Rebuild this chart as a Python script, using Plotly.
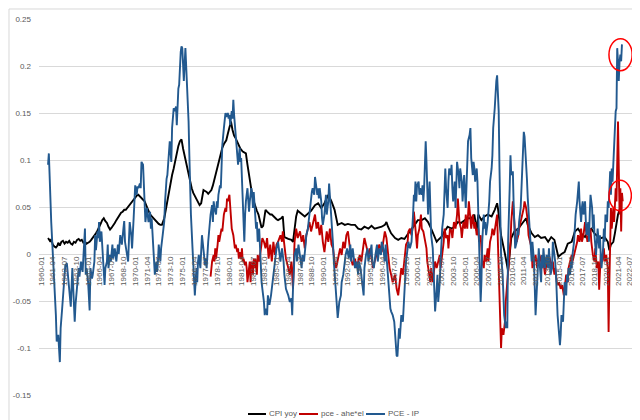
import plotly.graph_objects as go

# ---------------- data ----------------
# month index = months since 1960-01
x_tick_labels = ["1960-01", "1961-04", "1962-07", "1963-10", "1965-01", "1966-04", "1967-07",
                 "1968-10", "1970-01", "1971-04", "1972-07", "1973-10", "1975-01", "1976-04",
                 "1977-07", "1978-10", "1980-01", "1981-04", "1982-07", "1983-10", "1985-01",
                 "1986-04", "1987-07", "1988-10", "1990-01", "1991-04", "1992-07", "1993-10",
                 "1995-01", "1996-04", "1997-07", "1998-10", "2000-01", "2001-04", "2002-07",
                 "2003-10", "2005-01", "2006-04", "2007-07", "2008-10", "2010-01", "2011-04",
                 "2012-07", "2013-10", "2015-01", "2016-04", "2017-07", "2018-10", "2020-01",
                 "2021-04", "2022-07"]
y_tick_values = [-0.15, -0.1, -0.05, 0, 0.05, 0.1, 0.15, 0.2, 0.25]
y_tick_labels = ["-0.15", "-0.1", "-0.05", "0", "0.05", "0.1", "0.15", "0.2", "0.25"]

cpi_points = [
    (9, 0.017), (10, 0.015), (12, 0.013), (13, 0.016), (15, 0.010), (17, 0.008), (19, 0.007),
    (21, 0.009), (22, 0.012), (24, 0.009), (26, 0.013), (28, 0.014), (30, 0.011), (32, 0.013),
    (34, 0.012), (36, 0.014), (38, 0.011), (40, 0.010), (42, 0.013), (44, 0.012), (46, 0.015),
    (48, 0.016), (50, 0.014), (52, 0.015), (54, 0.012), (56, 0.013), (58, 0.011), (60, 0.012),
    (62, 0.013), (64, 0.015), (66, 0.017), (68, 0.019), (70, 0.022), (72, 0.025), (74, 0.028),
    (76, 0.032), (78, 0.036), (80, 0.038), (82, 0.035), (84, 0.033), (86, 0.029), (88, 0.026),
    (90, 0.028), (92, 0.030), (94, 0.033), (96, 0.036), (98, 0.039), (100, 0.042), (102, 0.044),
    (104, 0.045), (106, 0.047), (108, 0.047), (110, 0.049), (112, 0.052), (114, 0.054),
    (116, 0.056), (118, 0.058), (120, 0.060), (122, 0.062), (124, 0.063), (126, 0.061),
    (128, 0.060), (130, 0.058), (132, 0.056), (134, 0.052), (136, 0.047), (138, 0.044),
    (140, 0.041), (142, 0.039), (144, 0.037), (146, 0.035), (148, 0.033), (150, 0.032),
    (152, 0.031), (154, 0.031), (157, 0.038), (159, 0.047), (161, 0.056), (163, 0.066),
    (165, 0.077), (167, 0.084), (169, 0.091), (171, 0.100), (173, 0.109), (175, 0.115),
    (177, 0.120), (179, 0.122), (181, 0.112), (184, 0.100), (186, 0.091), (188, 0.083),
    (190, 0.075), (192, 0.070), (194, 0.065), (196, 0.062), (198, 0.059), (200, 0.056),
    (202, 0.052), (204, 0.054), (206, 0.062), (207, 0.068), (209, 0.067), (211, 0.066),
    (213, 0.064), (215, 0.066), (217, 0.068), (219, 0.073), (221, 0.080), (223, 0.088),
    (225, 0.094), (227, 0.100), (229, 0.106), (231, 0.113), (233, 0.117), (236, 0.121),
    (238, 0.128), (240, 0.136), (242, 0.141), (244, 0.132), (246, 0.126), (248, 0.123),
    (250, 0.119), (252, 0.116), (254, 0.112), (257, 0.109), (259, 0.108), (261, 0.107),
    (263, 0.095), (265, 0.084), (267, 0.072), (269, 0.063), (271, 0.056), (273, 0.050),
    (275, 0.046), (277, 0.042), (279, 0.036), (281, 0.028), (283, 0.030), (285, 0.042),
    (286, 0.047), (288, 0.045), (290, 0.043), (292, 0.042), (294, 0.042), (296, 0.040),
    (298, 0.038), (300, 0.037), (302, 0.036), (306, 0.038), (308, 0.040), (310, 0.018),
    (315, 0.016), (319, 0.015), (321, 0.013), (323, 0.027), (325, 0.040), (327, 0.046),
    (332, 0.043), (336, 0.040), (340, 0.043), (344, 0.046), (349, 0.052), (353, 0.054),
    (357, 0.049), (361, 0.054), (366, 0.063), (370, 0.056), (374, 0.047), (378, 0.031),
    (383, 0.033), (387, 0.031), (391, 0.032), (395, 0.031), (400, 0.031), (404, 0.027),
    (408, 0.026), (412, 0.029), (417, 0.027), (421, 0.030), (425, 0.027), (429, 0.028),
    (434, 0.029), (438, 0.031), (440, 0.034), (442, 0.029), (446, 0.022), (451, 0.017),
    (455, 0.015), (459, 0.017), (463, 0.016), (468, 0.022), (472, 0.026), (476, 0.031),
    (480, 0.036), (485, 0.036), (489, 0.038), (493, 0.034), (497, 0.027), (502, 0.018),
    (504, 0.013), (506, 0.015), (510, 0.018), (514, 0.024), (518, 0.029), (523, 0.027),
    (527, 0.029), (531, 0.034), (535, 0.033), (540, 0.036), (544, 0.038), (548, 0.038),
    (552, 0.042), (555, 0.025), (557, 0.042), (561, 0.036), (565, 0.040), (569, 0.042),
    (574, 0.040), (578, 0.047), (581, 0.054), (582, 0.049), (586, 0.020), (591, 0.000),
    (593, -0.010), (595, -0.018), (599, 0.017), (603, 0.024), (608, 0.027), (612, 0.031),
    (616, 0.036), (618, 0.038), (620, 0.031), (625, 0.022), (629, 0.018), (633, 0.020),
    (637, 0.017), (642, 0.018), (646, 0.013), (650, 0.018), (654, 0.015), (659, -0.003),
    (663, 0.000), (667, 0.002), (671, 0.011), (676, 0.013), (680, 0.024), (684, 0.027),
    (688, 0.022), (693, 0.018), (697, 0.024), (701, 0.027), (705, 0.022), (710, 0.018),
    (714, 0.017), (718, 0.018), (722, 0.013), (724, 0.004), (726, 0.010), (729, 0.013),
    (731, 0.022), (733, 0.034), (735, 0.042), (737, 0.047), (739, 0.052),
]

ahe_points = [
    (216, -0.024), (217, -0.015), (218, -0.008), (220, -0.001), (221, -0.008), (222, 0.006),
    (223, -0.005), (225, 0.010), (226, 0.020), (227, 0.013), (228, 0.020), (230, 0.027),
    (231, 0.024), (232, 0.031), (233, 0.042), (235, 0.049), (236, 0.045), (237, 0.059),
    (238, 0.056), (240, 0.063), (241, 0.049), (242, 0.038), (243, 0.027), (245, 0.020),
    (246, 0.013), (247, 0.006), (248, 0.010), (250, 0.002), (251, 0.006), (252, -0.005),
    (253, 0.002), (255, -0.005), (256, 0.006), (257, -0.008), (258, -0.005), (260, -0.012),
    (261, -0.008), (262, -0.015), (263, -0.030), (265, -0.015), (266, -0.008), (267, -0.030),
    (268, -0.008), (270, -0.022), (271, -0.005), (272, -0.015), (273, -0.005), (275, -0.022),
    (276, -0.001), (278, -0.008), (280, 0.006), (282, 0.017), (284, 0.013), (286, 0.006),
    (288, 0.017), (290, -0.005), (292, 0.010), (294, -0.008), (296, 0.013), (298, -0.001),
    (300, 0.010), (302, 0.013), (305, 0.020), (307, 0.013), (308, 0.024), (310, 0.006),
    (312, -0.005), (315, -0.015), (317, -0.022), (319, -0.008), (321, -0.037), (323, 0.013),
    (325, 0.027), (327, 0.017), (330, 0.024), (332, 0.013), (334, 0.020), (336, 0.006),
    (338, 0.020), (340, 0.027), (342, 0.034), (344, 0.024), (347, 0.034), (349, 0.042),
    (351, 0.027), (353, 0.034), (355, 0.020), (357, 0.031), (359, 0.013), (361, 0.002),
    (364, 0.024), (366, 0.013), (368, 0.027), (370, 0.010), (372, 0.006), (374, -0.008),
    (376, -0.015), (378, -0.008), (381, 0.006), (383, -0.001), (385, 0.013), (387, 0.006),
    (389, 0.020), (391, 0.024), (393, 0.006), (395, -0.005), (397, -0.012), (400, -0.005),
    (402, -0.015), (404, -0.008), (406, -0.001), (408, -0.008), (410, 0.006), (412, 0.017),
    (414, 0.010), (417, -0.001), (419, 0.006), (421, -0.005), (423, -0.015), (425, -0.008),
    (427, -0.001), (429, 0.006), (431, 0.010), (434, 0.002), (436, 0.013), (438, 0.024),
    (440, 0.017), (442, -0.001), (444, -0.015), (446, -0.022), (448, -0.030), (451, -0.022),
    (453, -0.037), (455, -0.044), (457, -0.030), (459, -0.015), (461, -0.022), (463, -0.008),
    (465, 0.010), (467, 0.013), (468, 0.024), (470, 0.027), (472, 0.020), (474, 0.031),
    (475, 0.045), (477, 0.027), (479, 0.006), (480, 0.020), (482, 0.027), (484, 0.042),
    (485, 0.027), (487, 0.024), (489, 0.013), (491, 0.006), (492, -0.008), (494, -0.022),
    (496, -0.030), (497, -0.015), (499, -0.030), (501, -0.015), (502, -0.008), (504, -0.015),
    (506, -0.008), (508, -0.001), (509, -0.015), (511, -0.001), (513, 0.013), (514, 0.027),
    (516, 0.017), (518, 0.020), (519, 0.006), (521, 0.027), (523, 0.024), (524, 0.017),
    (526, 0.034), (528, 0.027), (530, 0.042), (531, 0.059), (533, 0.034), (535, 0.027),
    (536, 0.017), (538, 0.034), (540, 0.027), (541, 0.042), (543, 0.027), (545, 0.056),
    (547, 0.034), (548, 0.027), (550, 0.042), (552, 0.027), (553, 0.034), (555, 0.020),
    (557, 0.027), (558, 0.013), (560, 0.020), (562, -0.008), (564, -0.015), (565, -0.001),
    (567, -0.008), (569, 0.006), (570, -0.008), (572, 0.013), (574, 0.020), (575, 0.027),
    (577, 0.020), (579, 0.034), (581, 0.042), (582, 0.013), (584, -0.044), (586, -0.100),
    (587, -0.079), (589, -0.086), (591, -0.072), (592, -0.051), (594, -0.030), (596, -0.008),
    (598, 0.013), (599, 0.034), (601, 0.056), (603, 0.034), (604, 0.020), (606, 0.013),
    (608, 0.020), (609, 0.027), (611, 0.034), (613, 0.042), (615, 0.049), (616, 0.056),
    (618, 0.049), (620, 0.035), (621, 0.020), (623, 0.013), (625, 0.006), (626, -0.015),
    (628, -0.008), (630, -0.001), (632, -0.015), (633, -0.008), (635, -0.001), (637, -0.008),
    (638, -0.015), (640, -0.008), (642, -0.022), (643, -0.015), (645, -0.008), (647, -0.001),
    (649, -0.008), (650, -0.015), (652, -0.008), (654, -0.022), (655, -0.015), (657, -0.030),
    (659, -0.033), (660, -0.030), (662, -0.037), (664, -0.033), (666, -0.044), (667, -0.037),
    (669, -0.022), (671, -0.030), (672, -0.015), (674, -0.008), (676, -0.001), (677, -0.008),
    (679, -0.001), (681, 0.006), (683, 0.013), (684, 0.020), (686, 0.013), (688, 0.027),
    (689, 0.013), (691, 0.020), (693, 0.034), (694, 0.027), (696, 0.013), (698, 0.020),
    (700, 0.027), (701, 0.013), (703, -0.001), (705, -0.008), (706, 0.006), (708, -0.015),
    (710, -0.008), (711, -0.038), (713, -0.001), (715, -0.008), (717, 0.006), (718, -0.008),
    (720, -0.001), (722, -0.015), (723, -0.083), (724, -0.030), (725, 0.027), (726, 0.049),
    (727, 0.027), (728, 0.042), (729, 0.049), (730, 0.034), (731, 0.056), (732, 0.070),
    (733, 0.056), (734, 0.098), (735, 0.141), (736, 0.091), (737, 0.042), (738, 0.070),
    (739, 0.024), (740, 0.065), (741, 0.056),
]

pce_ip_points = [
    (9, 0.095), (10, 0.107), (13, 0.034), (14, 0.020), (15, -0.005), (17, -0.030), (19, -0.065),
    (20, -0.093), (22, -0.086), (24, -0.115), (25, -0.079), (27, -0.058), (29, -0.037),
    (31, -0.012), (33, -0.010), (35, -0.030), (37, -0.044), (38, -0.056), (40, -0.015),
    (42, -0.044), (43, -0.072), (44, -0.054), (46, -0.033), (48, -0.015), (49, -0.024),
    (51, -0.008), (53, -0.019), (55, 0.010), (56, 0.027), (57, -0.022), (58, -0.015),
    (60, -0.030), (62, -0.060), (63, -0.015), (65, -0.026), (66, -0.022), (68, -0.008),
    (69, 0.020), (70, 0.004), (72, 0.024), (73, 0.017), (74, 0.034), (75, 0.013), (77, 0.024),
    (78, 0.006), (79, -0.008), (81, -0.033), (82, -0.015), (84, -0.008), (85, 0.010),
    (86, -0.015), (88, -0.001), (89, -0.008), (91, 0.010), (92, -0.005), (94, 0.006),
    (96, -0.008), (98, 0.010), (99, 0.000), (101, 0.020), (103, 0.010), (105, 0.027),
    (106, 0.035), (107, 0.013), (109, -0.001), (111, -0.008), (112, 0.013), (113, 0.034),
    (115, 0.020), (116, 0.006), (118, 0.038), (119, 0.056), (120, 0.073), (122, 0.063),
    (123, 0.072), (124, 0.070), (126, 0.075), (127, 0.070), (128, 0.098), (130, 0.095),
    (131, 0.077), (132, 0.052), (133, 0.034), (135, 0.049), (136, 0.042), (137, 0.034),
    (139, 0.045), (140, 0.027), (141, 0.038), (143, 0.010), (144, -0.008), (145, -0.022),
    (147, -0.008), (148, -0.019), (149, -0.008), (150, 0.010), (152, -0.008), (153, 0.006),
    (155, 0.020), (157, 0.035), (158, 0.055), (159, 0.070), (160, 0.080), (161, 0.084),
    (162, 0.100), (163, 0.115), (164, 0.120), (166, 0.098), (167, 0.134), (169, 0.155),
    (171, 0.152), (172, 0.157), (173, 0.137), (175, 0.176), (176, 0.180), (178, 0.215),
    (179, 0.221), (180, 0.219), (181, 0.201), (182, 0.184), (184, 0.219), (185, 0.201),
    (186, 0.180), (188, 0.141), (189, 0.105), (190, 0.070), (191, 0.042), (193, 0.006),
    (194, -0.015), (195, -0.030), (196, -0.044), (198, -0.015), (199, -0.030), (200, -0.008),
    (201, -0.001), (203, -0.015), (204, 0.006), (205, 0.020), (206, 0.013), (208, -0.001),
    (209, -0.012), (210, -0.005), (211, -0.015), (213, 0.013), (214, 0.024), (215, 0.031),
    (216, 0.042), (218, 0.052), (219, 0.034), (220, 0.056), (221, 0.049), (223, 0.042),
    (224, 0.056), (225, 0.049), (226, 0.063), (228, 0.073), (229, 0.070), (230, 0.091),
    (231, 0.116), (233, 0.134), (234, 0.144), (235, 0.150), (236, 0.146), (238, 0.150),
    (239, 0.144), (240, 0.148), (241, 0.137), (243, 0.152), (244, 0.144), (245, 0.164),
    (246, 0.148), (248, 0.127), (249, 0.120), (250, 0.105), (251, 0.095), (253, 0.113),
    (254, 0.098), (255, 0.102), (256, 0.084), (258, 0.034), (259, 0.013), (260, 0.042),
    (261, 0.056), (263, 0.070), (264, 0.052), (265, 0.045), (266, 0.056), (268, 0.070),
    (269, 0.063), (270, 0.049), (271, 0.066), (273, 0.045), (274, 0.027), (275, 0.034),
    (276, 0.013), (278, 0.027), (279, 0.010), (280, -0.008), (281, -0.030), (283, -0.044),
    (284, -0.051), (285, -0.065), (286, -0.058), (288, -0.065), (289, -0.044), (290, -0.051),
    (291, -0.054), (293, -0.044), (294, -0.037), (296, -0.022), (298, -0.008), (300, 0.006),
    (302, 0.013), (305, -0.008), (307, 0.006), (309, -0.008), (310, -0.022), (312, -0.037),
    (315, -0.044), (317, -0.051), (319, -0.047), (320, -0.065), (321, -0.037), (323, -0.001),
    (325, 0.006), (326, -0.008), (328, 0.010), (330, -0.005), (332, -0.015), (333, -0.001),
    (335, -0.008), (337, 0.010), (338, 0.020), (340, 0.027), (342, 0.042), (343, 0.056),
    (345, 0.066), (346, 0.070), (348, 0.063), (349, 0.082), (350, 0.077), (352, 0.063),
    (353, 0.070), (354, 0.059), (355, 0.070), (357, 0.056), (358, 0.038), (359, 0.031),
    (361, 0.042), (362, 0.056), (363, 0.063), (364, 0.042), (366, 0.056), (367, 0.075),
    (368, 0.063), (369, 0.042), (371, 0.020), (372, 0.010), (373, -0.008), (375, -0.037),
    (377, -0.058), (378, -0.068), (380, -0.051), (382, -0.044), (383, -0.030), (385, -0.022),
    (387, -0.008), (388, -0.001), (390, 0.006), (392, -0.005), (394, 0.010), (395, -0.008),
    (397, 0.006), (399, -0.005), (400, -0.015), (402, -0.008), (404, -0.022), (405, -0.008),
    (407, -0.015), (409, -0.030), (411, -0.044), (412, -0.015), (414, -0.001), (416, 0.006),
    (417, -0.008), (419, -0.001), (421, 0.010), (422, -0.008), (424, -0.015), (426, -0.001),
    (428, 0.010), (429, -0.008), (431, 0.006), (433, -0.001), (434, 0.013), (436, 0.006),
    (438, -0.008), (439, 0.010), (441, -0.015), (443, -0.037), (445, -0.058), (446, -0.061),
    (448, -0.065), (450, -0.072), (451, -0.086), (453, -0.108), (454, -0.109), (456, -0.079),
    (457, -0.090), (459, -0.065), (461, -0.072), (462, -0.058), (465, -0.008), (467, 0.006),
    (468, 0.013), (470, 0.006), (472, 0.013), (474, 0.042), (475, 0.063), (476, 0.056),
    (477, 0.077), (478, 0.056), (479, 0.073), (481, 0.077), (482, 0.063), (483, 0.070),
    (485, 0.063), (486, 0.073), (487, 0.056), (488, 0.070), (490, 0.120), (491, 0.098),
    (492, 0.056), (493, 0.042), (495, 0.077), (496, 0.049), (497, 0.020), (499, 0.006),
    (500, -0.015), (501, -0.037), (502, -0.061), (504, -0.037), (505, -0.022), (506, -0.051),
    (508, -0.030), (509, -0.008), (510, 0.013), (511, 0.027), (513, 0.042), (514, 0.070),
    (515, 0.091), (516, 0.070), (518, 0.049), (519, 0.077), (520, 0.091), (522, 0.084),
    (523, 0.095), (524, 0.070), (525, 0.056), (527, 0.077), (528, 0.049), (529, 0.073),
    (530, 0.098), (532, 0.084), (533, 0.070), (534, 0.091), (536, 0.077), (537, 0.056),
    (538, 0.070), (539, 0.084), (541, 0.049), (542, 0.070), (543, 0.105), (544, 0.120),
    (546, 0.127), (547, 0.134), (548, 0.102), (550, 0.084), (551, 0.098), (552, 0.091),
    (553, 0.077), (555, 0.091), (556, 0.077), (557, 0.042), (558, -0.008), (560, -0.051),
    (561, -0.030), (562, 0.013), (564, 0.042), (565, 0.027), (566, 0.034), (567, 0.020),
    (569, 0.034), (570, 0.042), (571, 0.056), (572, 0.077), (574, 0.091), (575, 0.105),
    (576, 0.134), (578, 0.155), (579, 0.173), (580, 0.184), (581, 0.190), (583, 0.152),
    (584, 0.091), (585, 0.042), (586, -0.001), (588, -0.022), (589, -0.044), (590, -0.065),
    (592, -0.079), (593, -0.072), (594, -0.079), (595, 0.013), (597, 0.070), (598, 0.105),
    (599, 0.084), (601, 0.088), (602, 0.056), (603, 0.027), (604, 0.006), (606, 0.013),
    (607, 0.027), (608, 0.020), (609, 0.034), (611, 0.049), (612, 0.070), (613, 0.091),
    (615, 0.130), (616, 0.125), (617, 0.113), (618, 0.098), (619, 0.080), (620, 0.060),
    (621, 0.042), (623, 0.020), (624, 0.006), (625, -0.008), (626, 0.013), (628, -0.008),
    (629, -0.037), (630, -0.065), (632, -0.030), (633, -0.008), (634, 0.006), (635, -0.008),
    (637, -0.030), (638, -0.001), (639, -0.015), (640, 0.006), (642, -0.015), (643, -0.008),
    (644, -0.001), (646, -0.015), (647, 0.006), (648, -0.008), (649, -0.022), (651, -0.015),
    (652, 0.013), (653, 0.006), (655, -0.008), (656, -0.022), (657, -0.044), (658, -0.065),
    (660, -0.086), (661, -0.097), (662, -0.086), (663, -0.065), (665, -0.072), (666, -0.044),
    (667, -0.030), (669, -0.044), (670, -0.022), (671, -0.030), (672, -0.015), (674, -0.022),
    (675, -0.008), (676, -0.015), (677, -0.001), (679, 0.013), (680, 0.027), (681, 0.042),
    (683, 0.056), (684, 0.070), (685, 0.077), (686, 0.056), (688, 0.034), (689, 0.049),
    (690, 0.056), (691, 0.042), (693, 0.056), (694, 0.034), (695, 0.020), (697, 0.034),
    (698, 0.013), (699, 0.042), (700, 0.063), (702, 0.049), (703, 0.027), (704, 0.042),
    (705, 0.020), (707, -0.001), (708, 0.013), (709, 0.027), (711, 0.006), (712, 0.020),
    (713, -0.001), (714, -0.015), (716, 0.006), (717, 0.027), (718, 0.013), (719, 0.042),
    (721, 0.034), (722, 0.056), (723, 0.049), (724, 0.084), (725, 0.088), (726, 0.063),
    (727, 0.091), (728, 0.077), (729, 0.098), (730, 0.123), (731, 0.141), (732, 0.152),
    (733, 0.155), (734, 0.219), (735, 0.205), (736, 0.184), (737, 0.205), (738, 0.212),
    (739, 0.205), (740, 0.223),
]

series_names = ["CPI yoy", "pce - ahe*el", "PCE - IP"]
series_points = [cpi_points, ahe_points, pce_ip_points]
series_colors = ["#000000", "#C00000", "#22598F"]


def month_to_date(m):
    return f"{1960 + m // 12}-{m % 12 + 1:02d}-01"


fig = go.Figure()
for name, pts, color in zip(series_names, series_points, series_colors):
    fig.add_trace(go.Scatter(
        x=[month_to_date(m) for m, _ in pts],
        y=[v for _, v in pts],
        mode="lines",
        name=name,
        showlegend=False,
        line=dict(color=color, width=1.9),
    ))

tick_dates = [lbl + "-01" for lbl in x_tick_labels]
grey = "#595959"
font_size = 8

# legend drawn Excel-style: short line sample followed by the text
legend_line_x = [(0.3489, 0.3790), (0.4341, 0.4658), (0.5459, 0.5776)]
legend_y = -0.0505
shapes = [
    dict(type="rect", xref="paper", yref="paper",
         x0=-0.0501, x1=1.0151, y0=-0.0824, y1=1.0266,
         line=dict(color="#D9D9D9", width=1), fillcolor="rgba(0,0,0,0)", layer="below"),
    dict(type="circle", xref="x", yref="y",
         x0="2020-04-15", x1="2022-10-01", y0=0.1950, y1=0.2290,
         line=dict(color="#FF0000", width=1.5)),
    dict(type="circle", xref="x", yref="y",
         x0="2020-04-15", x1="2022-09-01", y0=0.0460, y1=0.0785,
         line=dict(color="#FF0000", width=1.5)),
]
annotations = []
for (lx0, lx1), name, color in zip(legend_line_x, series_names, series_colors):
    shapes.append(dict(type="line", xref="paper", yref="paper", x0=lx0, x1=lx1,
                       y0=legend_y, y1=legend_y, line=dict(color=color, width=2)))
    annotations.append(dict(xref="paper", yref="paper", x=lx1 + 0.002, y=legend_y,
                            xanchor="left", yanchor="middle", text=name, showarrow=False,
                            font=dict(size=font_size, color=grey)))

fig.update_layout(
    width=640, height=420,
    margin=dict(l=31, r=10, t=11, b=33, autoexpand=False),
    paper_bgcolor="white", plot_bgcolor="white",
    font=dict(family="Liberation Sans, Arial, sans-serif", size=font_size, color=grey),
    showlegend=False,
    xaxis=dict(type="date", range=["1959-10-16", "2023-05-16"],
               tickmode="array", tickvals=tick_dates, ticktext=x_tick_labels,
               tickangle=-90, showgrid=False, zeroline=False, showline=False,
               ticks="", anchor="free", position=0.375,
               tickfont=dict(size=font_size, color=grey)),
    yaxis=dict(range=[-0.15, 0.25], tickmode="array", tickvals=y_tick_values,
               ticktext=y_tick_labels, showgrid=True, gridcolor="#D9D9D9", gridwidth=1,
               zeroline=False, showline=False, ticks="", ticklabelstandoff=7,
               tickfont=dict(size=font_size, color=grey)),
    shapes=shapes,
    annotations=annotations,
)

fig.write_html("out.html")
